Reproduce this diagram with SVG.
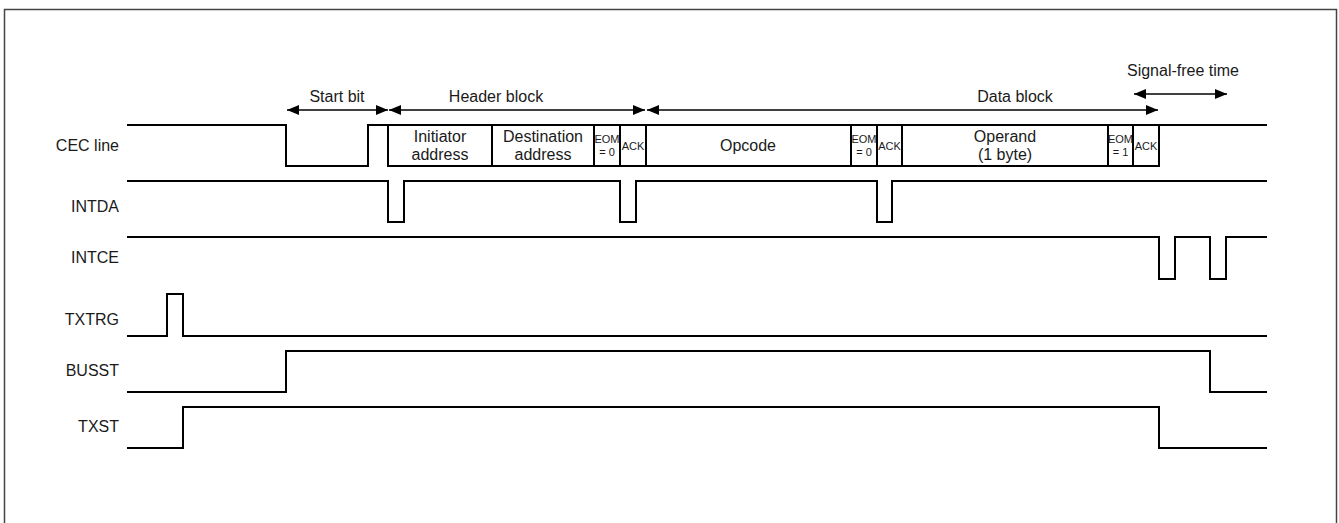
<svg xmlns="http://www.w3.org/2000/svg" width="1339" height="523" viewBox="0 0 1339 523">
<style>
.sig{fill:none;stroke:#000;stroke-width:2}
.arr{fill:none;stroke:#000;stroke-width:1.3}
.t{font-family:"Liberation Sans",Arial,sans-serif;font-size:16px;fill:#1a1a1a}
.lbl{text-anchor:end}
.c{text-anchor:middle}
.s{font-family:"Liberation Sans",Arial,sans-serif;font-size:11px;fill:#1a1a1a;text-anchor:middle}
</style>
<defs>
<marker id="ah" viewBox="0 0 12 10" refX="12" refY="5" markerWidth="12" markerHeight="10" markerUnits="userSpaceOnUse" orient="auto-start-reverse">
<path d="M0,0 L12,5 L0,10 Z" fill="#000"/>
</marker>
</defs>
<rect x="0" y="0" width="1339" height="523" fill="#fff"/>
<rect x="4.5" y="9.5" width="1332" height="530" fill="none" stroke="#444" stroke-width="1.5"/>

<g id="labels">
<text class="t lbl" x="119" y="151">CEC line</text>
<text class="t lbl" x="119" y="212">INTDA</text>
<text class="t lbl" x="119" y="263">INTCE</text>
<text class="t lbl" x="119" y="325">TXTRG</text>
<text class="t lbl" x="119" y="376">BUSST</text>
<text class="t lbl" x="119" y="432">TXST</text>
</g>

<g id="cec">
<path class="sig" d="M127,125 H286 V166 H368 V125 H388 V166 H1159 V125 M388,125 H1267"/>
<path class="sig" d="M492,125 V166 M594,125 V166 M620,125 V166 M646,125 V166 M851,125 V166 M877,125 V166 M902,125 V166 M1108,125 V166 M1133,125 V166"/>
<text class="t c" x="440" y="142">Initiator</text>
<text class="t c" x="440" y="160">address</text>
<text class="t c" x="543" y="142">Destination</text>
<text class="t c" x="543" y="160">address</text>
<text class="s" x="607" y="143">EOM</text>
<text class="s" x="607" y="156">= 0</text>
<text class="s" x="633" y="150">ACK</text>
<text class="t c" x="748" y="151">Opcode</text>
<text class="s" x="864" y="143">EOM</text>
<text class="s" x="864" y="156">= 0</text>
<text class="s" x="889.5" y="150">ACK</text>
<text class="t c" x="1005" y="142">Operand</text>
<text class="t c" x="1005" y="160">(1 byte)</text>
<text class="s" x="1120.5" y="143">EOM</text>
<text class="s" x="1120.5" y="156">= 1</text>
<text class="s" x="1146" y="150">ACK</text>
</g>

<g id="intda"><path class="sig" d="M127,181 H388 V222 H404 V181 H620 V222 H636 V181 H877 V222 H892 V181 H1267"/></g>
<g id="intce"><path class="sig" d="M127,237 H1159 V279 H1175 V237 H1210 V279 H1226 V237 H1267"/></g>
<g id="txtrg"><path class="sig" d="M127,336 H167 V294 H183 V336 H1267"/></g>
<g id="busst"><path class="sig" d="M127,392 H286 V351 H1210 V392 H1267"/></g>
<g id="txst"><path class="sig" d="M127,448 H183 V407 H1159 V448 H1267"/></g>

<g id="connectors">
<line class="arr" x1="287" y1="110" x2="388" y2="110" marker-start="url(#ah)" marker-end="url(#ah)"/>
<line class="arr" x1="389" y1="110" x2="645" y2="110" marker-start="url(#ah)" marker-end="url(#ah)"/>
<line class="arr" x1="647" y1="110" x2="1158" y2="110" marker-start="url(#ah)" marker-end="url(#ah)"/>
<line class="arr" x1="1134" y1="94" x2="1227" y2="94" marker-start="url(#ah)" marker-end="url(#ah)"/>
</g>

<g id="arrow-labels">
<text class="t c" x="337" y="102">Start bit</text>
<text class="t c" x="496" y="102">Header block</text>
<text class="t c" x="1015" y="102">Data block</text>
<text class="t c" x="1183" y="76">Signal-free time</text>
</g>
</svg>
